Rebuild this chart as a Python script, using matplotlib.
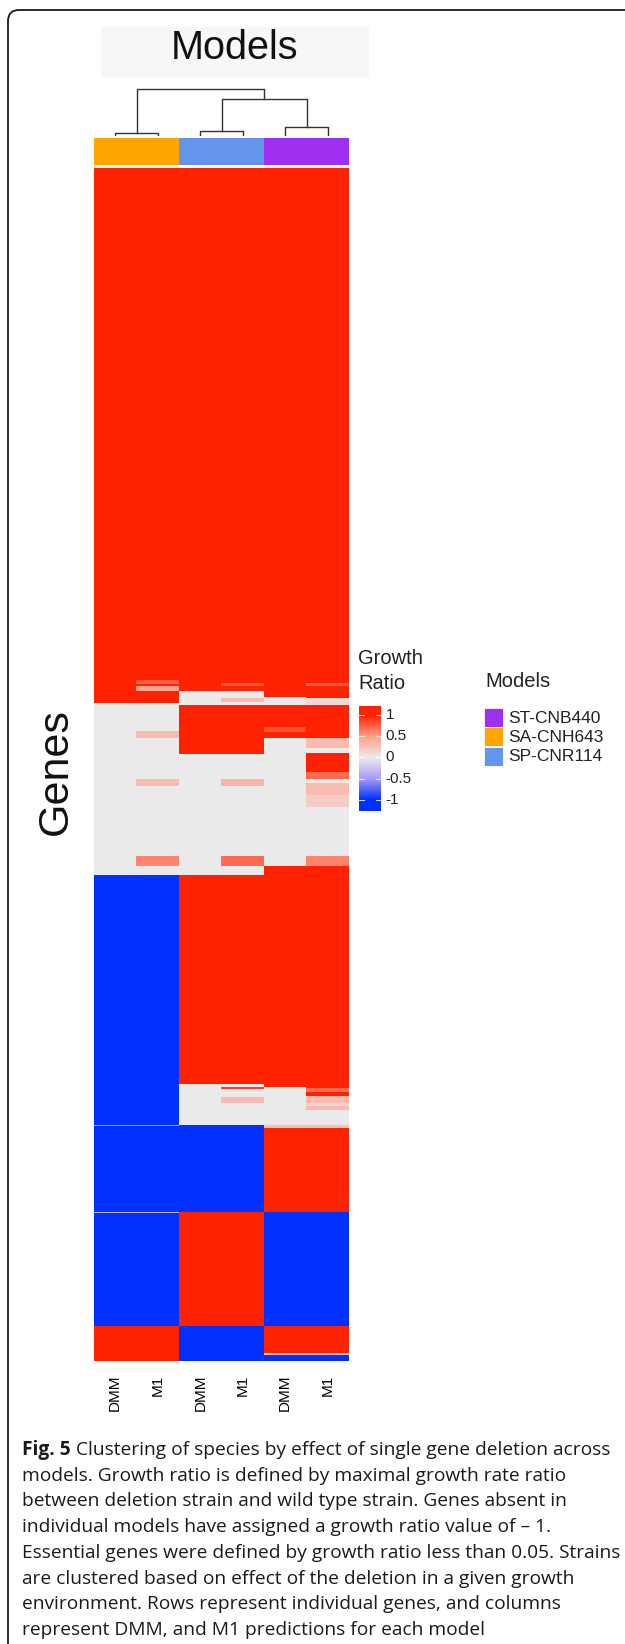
import numpy as np
import matplotlib
matplotlib.use("Agg")
import matplotlib.pyplot as plt
from matplotlib.colors import LinearSegmentedColormap, ListedColormap, Normalize
from matplotlib.patches import FancyBboxPatch, Rectangle

# ---- data ----
models = ["SA-CNH643", "SP-CNR114", "ST-CNB440"]
model_colors = {"ST-CNB440": "#A030F0", "SA-CNH643": "#FFA500", "SP-CNR114": "#6495ED"}
legend_order = ["ST-CNB440", "SA-CNH643", "SP-CNR114"]
col_labels = ["DMM", "M1", "DMM", "M1", "DMM", "M1"]
col_model = [0, 0, 1, 1, 2, 2]

# growth ratio per column, as (value, number of genes) runs from top to bottom
sa_dmm = [(1, 536), (0, 171), (-1, 250), (-0.5, 1), (-1, 86), (-0.3, 1), (-1, 113), (1, 35)]
sa_m1 = [(1, 513), (0.75, 4), (1, 2), (0.45, 5), (1, 12), (0, 28), (0.3, 7), (0, 40),
         (0.3, 7), (0, 70), (0.6, 10), (0, 9), (-1, 250), (-0.5, 1), (-1, 86),
         (-0.3, 1), (-1, 113), (1, 35)]
sp_dmm = [(1, 524), (0, 14), (1, 49), (0, 120), (1, 209), (0, 41), (-1, 87),
          (1, 114), (-1, 35)]
sp_m1 = [(1, 516), (0.75, 3), (1, 5), (0, 7), (0.3, 4), (0, 3), (1, 49), (0, 24),
         (0.35, 7), (0, 70), (0.7, 10), (0, 9), (1, 209), (0, 3), (0.9, 2), (0, 8),
         (0.3, 6), (0, 22), (-1, 87), (1, 114), (-1, 35)]
st_dmm = [(1, 530), (0, 8), (1, 22), (0.8, 5), (1, 6), (0, 127), (1, 221), (0, 38),
          (0.25, 3), (1, 84), (-1, 114), (1, 27), (0.3, 2), (-1, 6)]
st_m1 = [(1, 516), (0.75, 3), (1, 12), (0.1, 7), (1, 33), (0.3, 10), (0, 5), (1, 18),
         (0.7, 7), (0, 4), (0.3, 12), (0.2, 12), (0, 49), (0.6, 10), (1, 222),
         (0.7, 4), (1, 4), (0.3, 7), (0.15, 3), (0.3, 4), (0, 15), (0.25, 3),
         (1, 84), (-1, 114), (1, 27), (0.3, 2), (-1, 6)]

# dendrogram of the 6 columns: (left id, right id, height); new clusters get ids 6, 7, ...
dendro_merges = [(0, 1, 3), (2, 3, 5), (4, 5, 9), (7, 8, 37), (6, 9, 47)]

cbar_ticks = [1, 0.5, 0, -0.5, -1]
caption_bold = "Fig. 5"
caption_lines = [
    "Clustering of species by effect of single gene deletion across",
    "models. Growth ratio is defined by maximal growth rate ratio",
    "between deletion strain and wild type strain. Genes absent in",
    "individual models have assigned a growth ratio value of \u2013 1.",
    "Essential genes were defined by growth ratio less than 0.05. Strains",
    "are clustered based on effect of the deletion in a given growth",
    "environment. Rows represent individual genes, and columns",
    "represent DMM, and M1 predictions for each model",
]

# ---- build matrix ----
columns = [sa_dmm, sa_m1, sp_dmm, sp_m1, st_dmm, st_m1]
mat = np.column_stack([np.repeat([v for v, n in c], [n for v, n in c]) for c in columns])

cmap = LinearSegmentedColormap.from_list(
    "gr", [(0, "#0030FF"), (0.25, "#A99BF5"), (0.5, "#EBEBEB"), (0.75, "#FF9E88"), (1, "#FF2200")])
norm = Normalize(-1, 1)

W, H = 625, 1644
fig = plt.figure(figsize=(W / 100, H / 100), dpi=100)
font = "Liberation Sans"


def px_rect(x0, y0, x1, y1):
    return [x0 / W, 1 - y1 / H, (x1 - x0) / W, (y1 - y0) / H]


# background axes in pixel units
bg = fig.add_axes([0, 0, 1, 1], zorder=0)
bg.set_xlim(0, W)
bg.set_ylim(H, 0)
bg.axis("off")
bg.add_patch(FancyBboxPatch((8, 10), 700, 1750, boxstyle="round,pad=0,rounding_size=11",
                            fc="none", ec="#1a1a1a", lw=1.3))
bg.add_patch(Rectangle((101, 27), 268, 50, fc="#F7F7F7", ec="none"))
bg.text(235, 59, "Models", fontsize=28.5, family=font, ha="center", va="baseline", color="#111111")
bg.text(56, 772, "Genes", fontsize=31, family=font, ha="center", va="center",
        rotation=90, color="#111111")

# heatmap
ax = fig.add_axes(px_rect(94, 168, 349, 1361), zorder=2)
ax.imshow(mat, aspect="auto", cmap=cmap, norm=norm, interpolation="nearest")
ax.set_xticks(range(6))
ax.set_xticklabels(col_labels, rotation=90, fontsize=11, family=font)
ax.tick_params(axis="x", length=0, pad=10)
ax.set_yticks([])
for s in ax.spines.values():
    s.set_visible(False)

# column annotation bar
ann = fig.add_axes(px_rect(94, 138, 349, 165), zorder=2)
ann_cmap = ListedColormap([model_colors[m] for m in models])
ann.imshow(np.array([col_model]), aspect="auto", cmap=ann_cmap, vmin=-0.5, vmax=2.5,
           interpolation="nearest")
ann.axis("off")

# dendrogram
den = fig.add_axes(px_rect(94, 83, 349, 136), zorder=2)
den.set_xlim(0, 6)
den.set_ylim(0, 53)
den.axis("off")
pos = {i: (i + 0.5, 0) for i in range(6)}
for k, (a, b, h) in enumerate(dendro_merges):
    xa, ha = pos[a]
    xb, hb = pos[b]
    den.plot([xa, xa, xb, xb], [ha, h, h, hb], color="#333333", lw=1.0)
    pos[6 + k] = ((xa + xb) / 2, h)

# colour bar legend
bg.text(358, 664, "Growth", fontsize=14.5, family=font, va="baseline", color="#222222")
bg.text(358, 689, "Ratio", fontsize=14.5, family=font, va="baseline", color="#222222")
cax = fig.add_axes(px_rect(359, 706, 381, 811), zorder=2)
grad = np.linspace(1.21, -1.26, 200).reshape(-1, 1)
cax.imshow(grad, aspect="auto", cmap=cmap, norm=norm, extent=[0, 1, -1.26, 1.21])
cax.set_ylim(-1.26, 1.21)
cax.set_xlim(0, 1)
cax.axis("off")
for t in cbar_ticks:
    cax.plot([0, 0.22], [t, t], color="white", lw=0.8, alpha=0.8)
    cax.plot([0.78, 1], [t, t], color="white", lw=0.8, alpha=0.8)
    cax.text(1.2, t, "%g" % t, transform=cax.transData, fontsize=11, family=font,
             va="center", ha="left", color="#222222", clip_on=False)

# model legend
bg.text(485, 687, "Models", fontsize=14.5, family=font, va="baseline", color="#222222")
for i, m in enumerate(legend_order):
    y0 = 708 + i * 19.3
    bg.add_patch(Rectangle((484, y0), 19, 19, fc=model_colors[m], ec="white", lw=0.6))
    bg.text(508, y0 + 10, m, fontsize=12.5, family=font, va="center", color="#222222")

# caption
cap_font = "Open Sans"
cap_size = 13.75
base = 1455
step = 25.7
tb = bg.text(22, base, caption_bold, fontsize=cap_size, family=cap_font, weight="bold",
             va="baseline", color="#1a1a1a")
r = fig.canvas.get_renderer()
bw = tb.get_window_extent(renderer=r).width
for i, line in enumerate(caption_lines):
    x = 22 + bw + 5 if i == 0 else 22
    bg.text(x, base + i * step, line, fontsize=cap_size, family=cap_font,
            va="baseline", color="#1a1a1a")

fig.savefig("out.png", dpi=100)
